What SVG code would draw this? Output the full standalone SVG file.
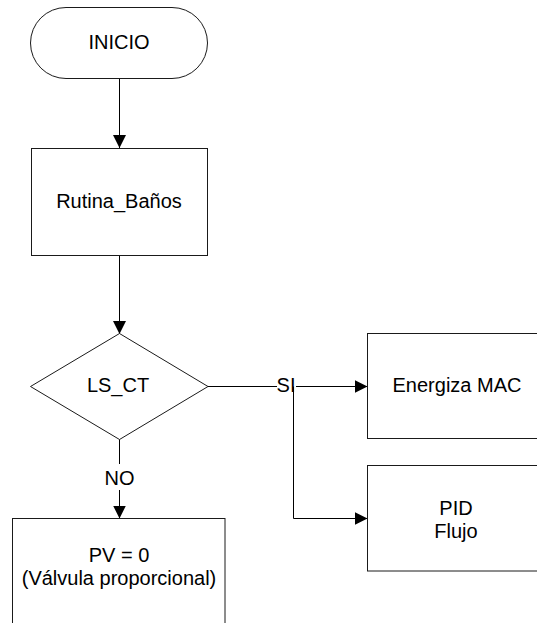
<svg xmlns="http://www.w3.org/2000/svg" width="537" height="623" viewBox="0 0 537 623">
  <style>
    .shape { fill: #ffffff; stroke: #1a1a1a; stroke-width: 1; }
    .edge { fill: none; stroke: #000000; stroke-width: 1; }
    .label { font-family: "Liberation Sans", Arial, sans-serif; font-size: 20px; fill: #000000; text-anchor: middle; }
  </style>
  <defs>
    <marker id="arrow" markerWidth="13" markerHeight="13" refX="13" refY="6.5" orient="auto" markerUnits="userSpaceOnUse">
      <path d="M0,0 L13,6.5 L0,13 Z" fill="#000000"/>
    </marker>
  </defs>

  <rect width="537" height="623" fill="#ffffff"/>

  <!-- connectors -->
  <g id="connectors">
    <line class="edge" x1="119.5" y1="78" x2="119.5" y2="148" marker-end="url(#arrow)"/>
    <line class="edge" x1="119.5" y1="256" x2="119.5" y2="334" marker-end="url(#arrow)"/>
    <!-- NO branch -->
    <line class="edge" x1="119.5" y1="439" x2="119.5" y2="464"/>
    <line class="edge" x1="119.5" y1="490" x2="119.5" y2="518.5" marker-end="url(#arrow)"/>
    <!-- SI branch -->
    <line class="edge" x1="208" y1="386.5" x2="277" y2="386.5"/>
    <line class="edge" x1="296" y1="386.5" x2="367.5" y2="386.5" marker-end="url(#arrow)"/>
    <polyline class="edge" points="293.5,386.5 293.5,518.5 367.5,518.5" marker-end="url(#arrow)"/>
    <text class="label" x="286" y="392">SI</text>
    <text class="label" x="119.5" y="485">NO</text>
  </g>

  <!-- start terminator -->
  <g id="inicio">
    <rect class="shape" x="30.5" y="7.5" width="177" height="71" rx="35.5" ry="35.5"/>
    <text class="label" x="119" y="49">INICIO</text>
  </g>

  <g id="rutina-banos">
    <rect class="shape" x="31.5" y="148.5" width="176" height="107"/>
    <text class="label" x="119" y="208">Rutina_Baños</text>
  </g>

  <g id="ls-ct">
    <polygon class="shape" points="119.5,333.5 208,386.5 119.5,439.5 30.5,386.5"/>
    <text class="label" x="118" y="392">LS_CT</text>
  </g>

  <g id="energiza-mac">
    <rect class="shape" x="367.5" y="333.5" width="175" height="105"/>
    <text class="label" x="457" y="392">Energiza MAC</text>
  </g>

  <g id="pid-flujo">
    <rect class="shape" x="367.5" y="465.5" width="175" height="105.5"/>
    <text class="label" x="456" y="515">PID</text>
    <text class="label" x="456" y="538">Flujo</text>
  </g>

  <g id="pv-cero">
    <rect class="shape" x="12.5" y="518.5" width="212.5" height="120"/>
    <text class="label" x="119" y="562">PV = 0</text>
    <text class="label" x="119" y="585">(Válvula proporcional)</text>
  </g>
</svg>
